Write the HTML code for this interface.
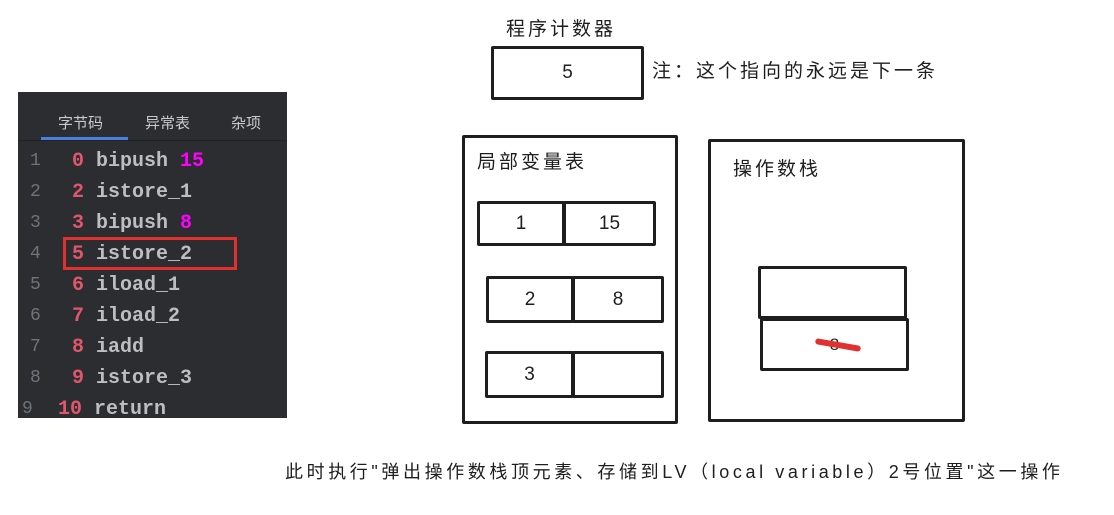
<!DOCTYPE html>
<html><head><meta charset="utf-8"><style>
body{margin:0;width:1114px;height:515px;background:#fff;position:relative;overflow:hidden;font-family:"Liberation Sans","Noto Sans CJK SC",sans-serif}
.a{position:absolute}
.b{position:absolute;border:3px solid #1e1e1e;box-sizing:border-box;border-radius:2px}
.t{position:absolute;font-size:19px;color:#1e1e1e;letter-spacing:3px;white-space:nowrap}
.c{display:flex;align-items:center;justify-content:center;font-size:19px;color:#1e1e1e}
#p{left:18px;top:92px;width:269px;height:326px;background:#2b2d30}
.ln{position:absolute;left:12px;color:#6f737a;font:18px "Liberation Mono",monospace}
.code{position:absolute;left:42px;font:bold 20px "Liberation Mono",monospace;color:#bcbec4;white-space:pre}
.r{color:#e0566c}.m{color:#f0f;}
</style></head><body>
<div class="a" id="p">
 <div class="a" style="left:40px;top:20px;color:#c8cad0;font-size:15px">字节码</div>
 <div class="a" style="left:127px;top:20px;color:#c8cad0;font-size:15px">异常表</div>
 <div class="a" style="left:213px;top:20px;color:#c8cad0;font-size:15px">杂项</div>
 <div class="a" style="left:23px;top:45px;width:87px;height:3px;background:#4a7fe0"></div>
 <div class="a" style="left:0;top:48px;width:269px;height:1px;background:#222"></div>
 <div class="ln" style="top:59px">1</div><div class="code" style="top:58px"><span class="r"> 0</span> bipush <span class="m">15</span></div>
 <div class="ln" style="top:90px">2</div><div class="code" style="top:89px"><span class="r"> 2</span> istore_1</div>
 <div class="ln" style="top:121px">3</div><div class="code" style="top:120px"><span class="r"> 3</span> bipush <span class="m">8</span></div>
 <div class="ln" style="top:152px">4</div><div class="code" style="top:151px"><span class="r"> 5</span> istore_2</div>
 <div class="ln" style="top:183px">5</div><div class="code" style="top:182px"><span class="r"> 6</span> iload_1</div>
 <div class="ln" style="top:214px">6</div><div class="code" style="top:213px"><span class="r"> 7</span> iload_2</div>
 <div class="ln" style="top:245px">7</div><div class="code" style="top:244px"><span class="r"> 8</span> iadd</div>
 <div class="ln" style="top:276px">8</div><div class="code" style="top:275px"><span class="r"> 9</span> istore_3</div>
 <div class="ln" style="top:307px;left:4px">9</div><div class="code" style="top:306px;left:40px"><span class="r">10</span> return</div>
 <div class="a" style="left:45px;top:145px;width:174px;height:33px;border:3px solid #e03030;box-sizing:border-box"></div>
</div>

<div class="t" style="left:506px;top:14px">程序计数器</div>
<div class="b c" style="left:491px;top:46px;width:153px;height:54px">5</div>
<div class="t" style="left:652px;top:56px">注：这个指向的永远是下一条</div>

<div class="b" style="left:462px;top:135px;width:216px;height:289px"></div>
<div class="t" style="left:477px;top:147px">局部变量表</div>
<div class="b c" style="left:477px;top:201px;width:88px;height:45px">1</div>
<div class="b c" style="left:563px;top:201px;width:93px;height:45px">15</div>
<div class="b c" style="left:486px;top:276px;width:88px;height:47px">2</div>
<div class="b c" style="left:572px;top:276px;width:92px;height:47px">8</div>
<div class="b c" style="left:485px;top:351px;width:89px;height:47px">3</div>
<div class="b c" style="left:572px;top:351px;width:92px;height:47px"></div>

<div class="b" style="left:708px;top:139px;width:257px;height:283px"></div>
<div class="t" style="left:733px;top:154px">操作数栈</div>
<div class="b" style="left:758px;top:266px;width:149px;height:53px"></div>
<div class="b c" style="left:760px;top:318px;width:149px;height:53px"><span style="font-size:17px">8</span></div>
<div class="a" style="left:815px;top:342px;width:46px;height:6px;background:#e03030;border-radius:3px;transform:rotate(10deg)"></div>

<div class="t" style="left:285px;top:458px;font-size:18px;letter-spacing:3.6px">此时执行"弹出操作数栈顶元素、存储到LV（local variable）2号位置"这一操作</div>
</body></html>
